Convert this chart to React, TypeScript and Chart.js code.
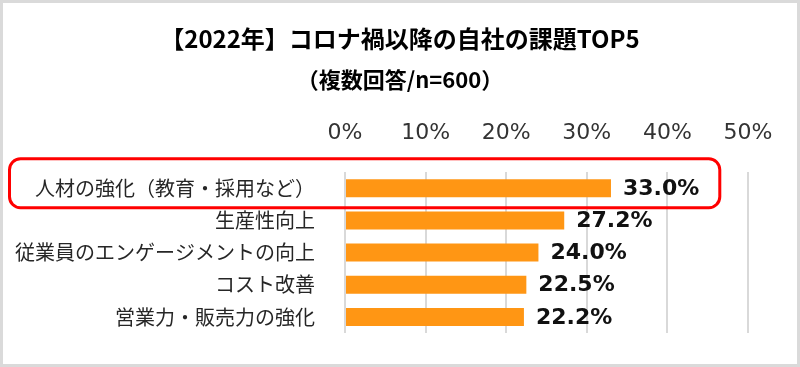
import React, { useEffect, useRef } from "react";
import { Chart, registerables } from "chart.js";

Chart.register(...registerables);

const titleText = "【2022年】コロナ禍以降の自社の課題TOP5";
const subtitleText = "（複数回答/n=600）";
const categories = [
  "人材の強化（教育・採用など）",
  "生産性向上",
  "従業員のエンゲージメントの向上",
  "コスト改善",
  "営業力・販売力の強化",
];
const values = [33.0, 27.2, 24.0, 22.5, 22.2];
const xTicks = [0, 10, 20, 30, 40, 50];

const CJK = "'Noto Sans CJK JP', 'Noto Sans', sans-serif";
const NUM = "'DejaVu Sans', sans-serif";

const framePlugin = {
  id: "frame",
  beforeDraw(chart: any) {
    const { ctx, width, height } = chart;
    ctx.save();
    ctx.fillStyle = "#ffffff";
    ctx.fillRect(0, 0, width, height);
    ctx.strokeStyle = "#dadada";
    ctx.lineWidth = 3;
    ctx.strokeRect(1.5, 1.5, width - 3, height - 3);
    ctx.restore();
  },
};

const labelPlugin = {
  id: "valueLabels",
  afterDatasetsDraw(chart: any) {
    const { ctx } = chart;
    const meta = chart.getDatasetMeta(0);
    ctx.save();
    ctx.font = `bold 22px ${NUM}`;
    ctx.fillStyle = "#111111";
    ctx.textAlign = "left";
    ctx.textBaseline = "middle";
    meta.data.forEach((bar: any, i: number) => {
      ctx.fillText(values[i].toFixed(1) + "%", bar.x + 12, bar.y + 1);
    });
    ctx.restore();
  },
};

const highlightPlugin = {
  id: "highlight",
  afterDraw(chart: any) {
    const { ctx } = chart;
    const yScale = chart.scales.y;
    const xScale = chart.scales.x;
    const cy = yScale.getPixelForValue(0);
    const top = cy - 29.5;
    const bottom = cy + 19.5;
    const left = 9.5;
    const right = xScale.getPixelForValue(46.5);
    const r = 11;
    ctx.save();
    ctx.strokeStyle = "#ff0000";
    ctx.lineWidth = 3;
    ctx.beginPath();
    ctx.moveTo(left + r, top);
    ctx.lineTo(right - r, top);
    ctx.arcTo(right, top, right, top + r, r);
    ctx.lineTo(right, bottom - r);
    ctx.arcTo(right, bottom, right - r, bottom, r);
    ctx.lineTo(left + r, bottom);
    ctx.arcTo(left, bottom, left, bottom - r, r);
    ctx.lineTo(left, top + r);
    ctx.arcTo(left, top, left + r, top, r);
    ctx.closePath();
    ctx.stroke();
    ctx.restore();
  },
};

export default function App() {
  const ref = useRef<HTMLCanvasElement>(null);
  useEffect(() => {
    document.body.style.margin = "0";
    const canvas = ref.current!;
    const chart = new Chart(canvas, {
      type: "bar",
      data: {
        labels: categories,
        datasets: [
          {
            data: values,
            backgroundColor: "#ff9614",
            borderWidth: 0,
            barPercentage: 0.56,
            categoryPercentage: 1,
          },
        ],
      },
      options: {
        indexAxis: "y",
        responsive: false,
        animation: false,
        layout: { padding: { left: 0, right: 0, top: 0, bottom: 25 } },
        plugins: {
          legend: { display: false },
          tooltip: { enabled: false },
          title: {
            display: true,
            text: titleText,
            color: "#000000",
            font: { family: CJK, size: 24, weight: "bold" },
            padding: { top: 24, bottom: 0 },
          },
          subtitle: {
            display: true,
            text: subtitleText,
            color: "#000000",
            font: { family: CJK, size: 22, weight: "bold" },
            padding: { top: 14, bottom: 0 },
          },
        },
        scales: {
          x: {
            position: "top",
            min: 0,
            max: 50,
            afterBuildTicks(scale: any) {
              scale.ticks = xTicks.map((v) => ({ value: v }));
            },
            ticks: {
              padding: 26,
              color: "#333333",
              font: { family: NUM, size: 22 },
              callback: (v: any) => `${v}%`,
              maxRotation: 0,
            },
            grid: { color: "#d9d9d9", lineWidth: 2, drawTicks: false },
            border: { display: false },
            afterFit(scale: any) {
              scale.height = 79;
              scale.paddingLeft = 0;
              scale.paddingRight = 52;
            },
          },
          y: {
            ticks: {
              padding: 22,
              color: "#262626",
              font: { family: CJK, size: 20 },
            },
            grid: { display: false },
            border: { display: false },
            afterFit(scale: any) {
              scale.width = 345;
            },
          },
        },
      },
      plugins: [framePlugin, labelPlugin, highlightPlugin],
    });
    return () => chart.destroy();
  }, []);
  return (
    <canvas
      ref={ref}
      width={800}
      height={367}
      style={{ display: "block", width: 800, height: 367 }}
    />
  );
}
